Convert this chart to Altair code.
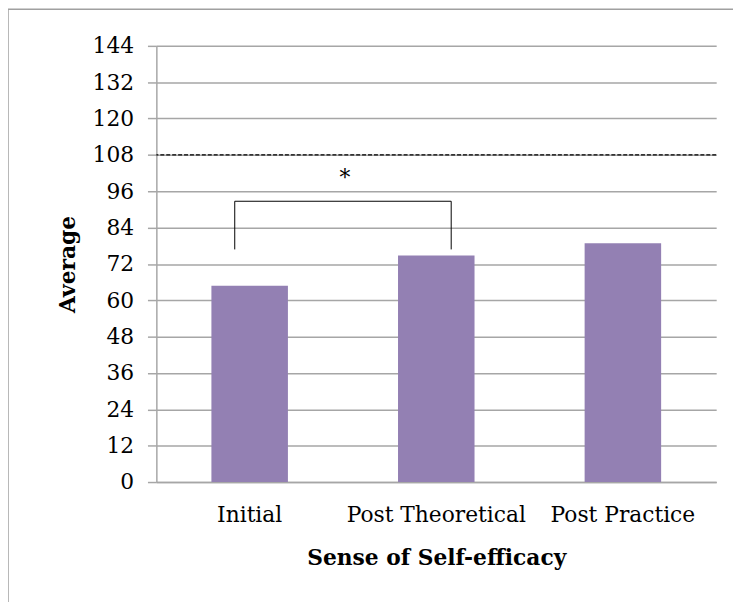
import altair as alt
import pandas as pd

categories = ["Initial", "Post Theoretical", "Post Practice"]
averages = [64.8, 74.8, 78.8]
reference_value = [108]
bracket_x = [0.42, 0.42, 1.58, 1.58]
bracket_y = [76.8, 92.7, 92.7, 76.8]
bracket_order = [0, 1, 2, 3]
star_x = [1.01]
star_y = [100.2]
star_text = ["*"]
y_ticks = list(range(0, 145, 12))

FONT = "DejaVu Serif"
GRID = "#a6a6a6"

bars_df = pd.DataFrame({"cat": categories, "avg": averages})
ref_df = pd.DataFrame({"v": reference_value})
br_df = pd.DataFrame({"x": bracket_x, "y": bracket_y, "o": bracket_order})
star_df = pd.DataFrame({"x": star_x, "y": star_y, "t": star_text})

yscale = alt.Scale(domain=[0, 144], nice=False)
y_axis = alt.Axis(title="Average", values=y_ticks, tickSize=9, tickColor=GRID,
                  tickWidth=1.5, domainColor=GRID, domainWidth=1.5,
                  gridColor=GRID, gridWidth=1.5, labelPadding=14,
                  labelOverlap=False, titlePadding=13)

bars = alt.Chart(bars_df).mark_bar(color="#9380b3").encode(
    x=alt.X("cat:N", sort=categories,
            scale=alt.Scale(paddingInner=0.59, paddingOuter=0.295),
            axis=alt.Axis(title="Sense of Self-efficacy", labelAngle=0, ticks=False,
                          labelPadding=23, titlePadding=22, domainColor=GRID,
                          domainWidth=1.5, grid=False, labelLimit=0)),
    y=alt.Y("avg:Q", scale=yscale, axis=y_axis),
)

frame = alt.Chart(ref_df).mark_rect(fill=None, stroke="#a0a0a0", strokeWidth=1.5).encode(
    x=alt.value(-150), x2=alt.value(900), y=alt.value(-37), y2=alt.value(900)
)

ref = alt.Chart(ref_df).mark_rule(color="black", strokeDash=[4, 2], strokeWidth=1.2).encode(
    y=alt.Y("v:Q", scale=yscale, axis=y_axis)
)

xq = alt.Scale(domain=[0, 3], nice=False, zero=False)
bracket = alt.Chart(br_df).mark_line(color="black", strokeWidth=1).encode(
    x=alt.X("x:Q", scale=xq, axis=None),
    y=alt.Y("y:Q", scale=yscale, axis=y_axis),
    order="o:Q",
)
star = alt.Chart(star_df).mark_text(font=FONT, fontSize=22, baseline="middle").encode(
    x=alt.X("x:Q", scale=xq, axis=None),
    y=alt.Y("y:Q", scale=yscale, axis=y_axis),
    text="t:N",
)

chart = alt.layer(bars, frame, ref, bracket, star).resolve_scale(x="independent").properties(
    width=566, height=441,
    autosize=alt.AutoSizeParams(type="none"),
    padding={"left": 150, "top": 35, "right": 17, "bottom": 118},
    background="white",
).configure_view(stroke=None).configure_axis(
    labelFont=FONT, titleFont=FONT, labelFontSize=22, titleFontSize=22,
    labelColor="black", titleColor="black", titleFontWeight="bold",
)

chart.save("out.html", embed_options={"renderer": "svg", "actions": False})
